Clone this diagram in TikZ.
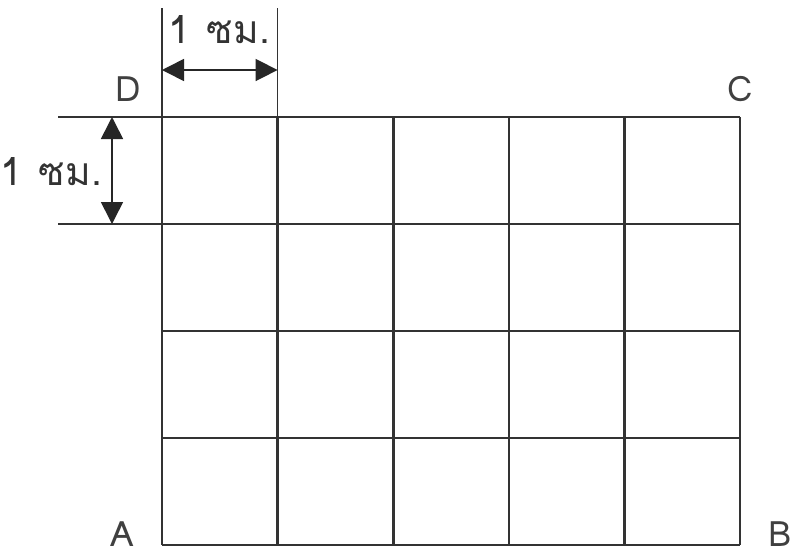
\documentclass[tikz,border=0pt]{standalone}
\usepackage{fontspec}
\usetikzlibrary{arrows.meta}
\newfontfamily\thaifont[Script=Thai]{Loma}
\begin{document}
\begin{tikzpicture}[x=1pt,y=-1pt,
  gridline/.style={line width=2.6pt,draw=black!80},
  extline/.style={line width=1.6pt,draw=black!80},
  dimarrow/.style={line width=1.6pt,draw=black!85,{Triangle[length=22pt,width=22pt]}-{Triangle[length=22pt,width=22pt]}},
  lbl/.style={font=\thaifont\fontsize{35}{35}\selectfont,text=black!75,inner sep=0pt},
  dimlbl/.style={font=\thaifont\fontsize{39}{39}\selectfont,text=black!80,inner sep=0pt}]
\useasboundingbox[fill=white] (0,0) rectangle (793,558);
% grid
\foreach \x in {162,277.6,393.2,508.8,624.4,740} \draw[gridline] (\x,117) -- (\x,545);
\foreach \y in {117,224,331,438,545} \draw[gridline] (162,\y) -- (740,\y);
% corner labels
\node[lbl] (D) at (128,89) {D};
\node[lbl] (C) at (740,89) {C};
\node[lbl] (A) at (122,534) {A};
\node[lbl] (B) at (780,534) {B};
% top dimension
\coordinate (t1) at (162,8);
\coordinate (t2) at (277.6,8);
\coordinate (t1b) at (162,117);
\coordinate (t2b) at (277.6,117);
\draw[extline] (t1) -- (t1b);
\draw[extline] (t2) -- (t2b);
\coordinate (ta) at (162,70);
\coordinate (tb) at (277.6,70);
\draw[dimarrow] (ta) -- (tb);
\node[dimlbl] (tl) at (219,30) {1\hspace{4pt} ซม.};
% left dimension
\coordinate (l1) at (58,117);
\coordinate (l2) at (58,224);
\coordinate (l1b) at (162,117);
\coordinate (l2b) at (162,224);
\draw[extline] (l1) -- (l1b);
\draw[extline] (l2) -- (l2b);
\coordinate (la) at (112,117);
\coordinate (lb) at (112,224);
\draw[dimarrow] (la) -- (lb);
\node[dimlbl] (ll) at (51,172) {1\hspace{4pt} ซม.};
\end{tikzpicture}
\end{document}
